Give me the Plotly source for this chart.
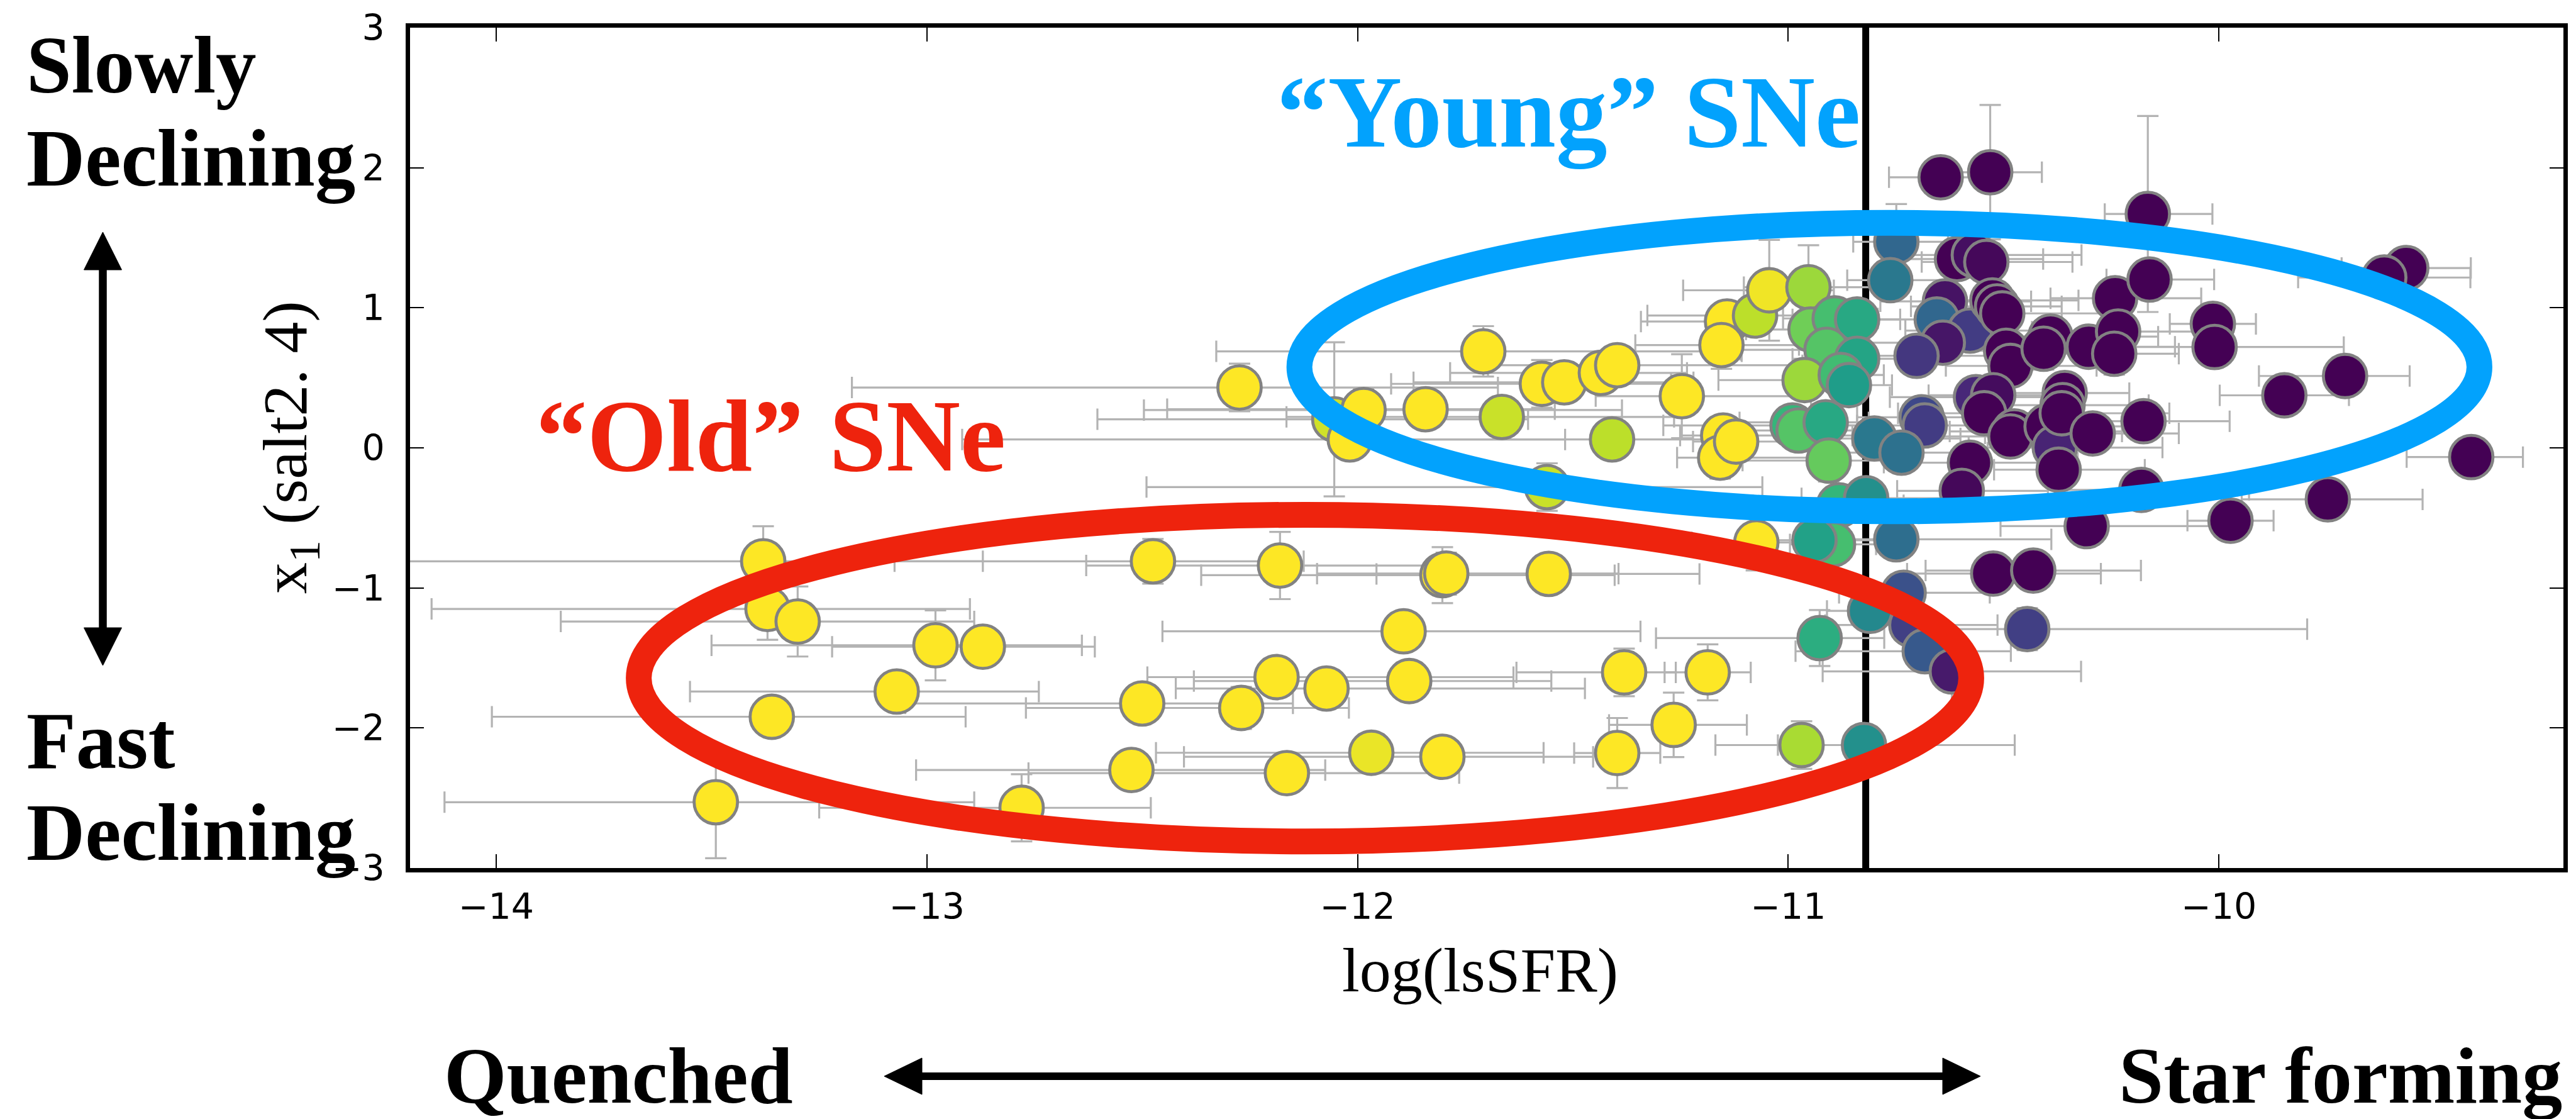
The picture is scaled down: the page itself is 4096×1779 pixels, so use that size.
import plotly.graph_objects as go

# ---------------------------------------------------------------
# Data: log local specific SFR of the host vs SALT2.4 stretch x1
# ---------------------------------------------------------------
lssfr = [
    -13.38, -13.37, -13.30, -12.98, -12.87, -13.07, -13.36, -13.49, -12.78, -12.475,
    -12.50, -12.525, -12.274, -12.054, -11.986, -12.018, -11.842, -11.708, -11.665, -11.572,
    -11.52, -11.56, -12.18, -11.803, -11.794, -11.556, -11.893, -12.188, -12.27, -12.072,
    -11.88, -11.968, -11.803, -12.164, -11.435, -11.397, -11.247, -11.409, -11.142, -11.077,
    -11.044, -11.155, -10.953, -10.948, -10.892, -10.84, -10.911, -10.84, -10.962, -10.878,
    -10.859, -10.99, -10.976, -10.913, -10.906, -10.80, -11.151, -11.158, -11.121, -10.882,
    -10.819, -11.074, -10.896, -10.939, -10.81, -10.927, -11.381, -11.187, -11.266, -11.397,
    -10.969, -10.824, -10.749, -10.763, -10.608, -10.569, -10.54, -10.636, -10.655, -10.578,
    -10.641, -10.702, -10.526, -10.515, -10.503, -10.494, -10.484, -10.391, -10.407, -10.302,
    -10.241, -10.234, -10.243, -10.161, -10.564, -10.524, -10.545, -10.475, -10.484, -10.40,
    -10.381, -10.372, -10.358, -10.363, -10.365, -10.293, -10.69, -10.683, -10.737, -10.578,
    -10.597, -10.165, -10.175, -10.18, -10.307, -10.749, -10.524, -10.431, -10.732, -10.714,
    -10.683, -10.62, -10.445, -10.646, -10.531, -9.565, -9.616, -10.014, -10.01, -9.707,
    -9.848, -9.414, -9.747, -9.973,
]
x1 = [
    -0.81, -1.15, -1.24, -1.41, -1.42, -1.74, -1.92, -2.53, -2.57, -0.81,
    -1.825, -2.30, 0.431, 0.204, 0.27, 0.06, 0.276, 0.689, 0.221, 0.457,
    0.468, -0.28, -0.84, -0.909, -0.898, -0.90, -1.31, -1.637, -1.857, -1.718,
    -1.665, -2.177, -2.206, -2.322, 0.535, 0.59, 0.369, 0.06, 0.902, 0.945,
    1.125, 0.734, 1.147, 0.845, 0.924, 0.917, 0.70, 0.636, 0.484, 0.52,
    0.448, 0.16, 0.124, 0.182, -0.091, 0.067, 0.088, -0.07, 0.045, -0.41,
    -0.36, -0.675, -0.689, -0.66, -1.164, -1.358, -1.603, -1.603, -1.978, -2.179,
    -2.122, -2.122, 1.471, 1.197, 1.348, 1.377, 1.327, 1.046, 0.917, 0.837,
    0.751, 0.657, 1.053, 1.01, 0.96, 0.693, 0.585, 0.794, 0.708, 0.722,
    1.068, 0.83, 0.672, 1.202, 0.362, 0.376, 0.247, 0.117, 0.081, 0.153,
    0.002, -0.156, 0.391, 0.305, 0.247, 0.103, 0.218, 0.16, -0.034, -0.106,
    -0.307, 1.67, 0.19, -0.30, -0.559, -0.653, -0.898, -0.876, -1.035, -1.265,
    -1.452, -1.596, -1.294, 1.932, 1.968, 1.284, 1.216, 0.885, 0.72, 0.513,
    0.375, -0.066, -0.368, -0.52,
]
lssfr_err_lo = [
    0.90, 0.78, 0.55, 0.52, 0.35, 0.48, 0.65, 0.63, 0.47, 0.60,
    0.55, 0.50, 0.90, 0.55, 0.51, 0.90, 0.60, 0.62, 0.50, 0.35,
    0.35, 0.93, 0.45, 0.56, 0.30, 0.40, 0.56, 0.30, 0.50, 0.35,
    0.50, 0.50, 0.60, 0.60, 0.35, 0.30, 0.20, 0.60, 0.20, 0.25,
    0.20, 0.20, 0.15, 0.15, 0.12, 0.15, 0.20, 0.15, 0.20, 0.12,
    0.10, 0.30, 0.15, 0.20, 0.20, 0.15, 0.10, 0.10, 0.10, 0.20,
    0.15, 0.15, 0.10, 0.10, 0.10, 0.38, 0.25, 0.10, 0.15, 0.10,
    0.20, 0.20, 0.10, 0.10, 0.15, 0.20, 0.15, 0.15, 0.20, 0.15,
    0.20, 0.15, 0.15, 0.20, 0.15, 0.20, 0.15, 0.15, 0.20, 0.15,
    0.15, 0.20, 0.25, 0.10, 0.20, 0.15, 0.20, 0.15, 0.20, 0.15,
    0.20, 0.15, 0.20, 0.15, 0.20, 0.25, 0.15, 0.20, 0.15, 0.20,
    0.15, 0.10, 0.25, 0.20, 0.20, 0.20, 0.20, 0.25, 0.15, 0.20,
    0.30, 0.30, 0.30, 0.12, 0.10, 0.15, 0.20, 0.10, 0.30, 0.20,
    0.15, 0.15, 0.20, 0.10,
]
lssfr_err_hi = [
    0.51, 0.47, 0.41, 0.34, 0.26, 0.33, 0.45, 0.60, 0.30, 0.35,
    0.35, 0.45, 0.60, 0.45, 0.60, 0.50, 0.30, 0.60, 0.40, 0.30,
    0.30, 0.50, 0.38, 0.40, 0.40, 0.35, 0.55, 0.55, 0.25, 0.60,
    0.33, 0.40, 0.35, 0.40, 0.20, 0.43, 0.30, 0.30, 0.10, 0.15,
    0.15, 0.18, 0.16, 0.12, 0.10, 0.10, 0.10, 0.12, 0.10, 0.10,
    0.10, 0.15, 0.15, 0.10, 0.15, 0.20, 0.30, 0.25, 0.20, 0.15,
    0.20, 0.10, 0.10, 0.15, 0.10, 0.15, 0.12, 0.10, 0.17, 0.10,
    0.10, 0.35, 0.12, 0.15, 0.20, 0.25, 0.20, 0.20, 0.15, 0.20,
    0.15, 0.20, 0.20, 0.15, 0.25, 0.20, 0.20, 0.25, 0.15, 0.20,
    0.20, 0.25, 0.15, 0.15, 0.20, 0.15, 0.20, 0.25, 0.15, 0.20,
    0.25, 0.20, 0.15, 0.20, 0.25, 0.20, 0.20, 0.15, 0.20, 0.25,
    0.20, 0.15, 0.20, 0.25, 0.30, 0.36, 0.25, 0.25, 0.20, 0.20,
    0.20, 0.30, 0.65, 0.10, 0.12, 0.15, 0.20, 0.10, 0.30, 0.15,
    0.15, 0.12, 0.22, 0.10,
]
x1_err = [
    0.25, 0.22, 0.25, 0.25, 0.10, 0.10, 0.10, 0.40, 0.24, 0.16,
    0.10, 0.10, 0.17, 0.55, 0.15, 0.12, 0.12, 0.18, 0.12, 0.17,
    0.12, 0.17, 0.24, 0.20, 0.15, 0.10, 0.10, 0.10, 0.15, 0.10,
    0.10, 0.12, 0.10, 0.10, 0.10, 0.10, 0.30, 0.12, 0.08, 0.10,
    0.36, 0.17, 0.30, 0.10, 0.10, 0.10, 0.10, 0.10, 0.10, 0.08,
    0.08, 0.10, 0.10, 0.10, 0.15, 0.10, 0.10, 0.15, 0.12, 0.10,
    0.10, 0.20, 0.10, 0.10, 0.10, 0.20, 0.17, 0.20, 0.23, 0.25,
    0.17, 0.10, 0.27, 0.10, 0.12, 0.12, 0.12, 0.12, 0.15, 0.12,
    0.12, 0.12, 0.12, 0.12, 0.12, 0.12, 0.12, 0.12, 0.15, 0.12,
    0.12, 0.12, 0.15, 0.12, 0.12, 0.12, 0.12, 0.12, 0.12, 0.12,
    0.15, 0.12, 0.12, 0.12, 0.12, 0.12, 0.12, 0.12, 0.12, 0.12,
    0.12, 0.70, 0.12, 0.12, 0.12, 0.12, 0.10, 0.10, 0.10, 0.10,
    0.10, 0.30, 0.15, 0.10, 0.48, 0.10, 0.10, 0.10, 0.10, 0.10,
    0.10, 0.10, 0.10, 0.10,
]
# marker shade (0 = purple ... 1 = yellow on viridis)
shade = [
    1.0, 1.0, 1.0, 1.0, 1.0, 1.0, 1.0, 1.0, 1.0, 1.0,
    1.0, 1.0, 1.0, 0.93, 1.0, 1.0, 1.0, 1.0, 0.92, 1.0,
    1.0, 0.92, 1.0, 1.0, 1.0, 1.0, 1.0, 1.0, 1.0, 1.0,
    1.0, 0.97, 1.0, 1.0, 1.0, 1.0, 1.0, 0.90, 1.0, 0.90,
    0.98, 1.0, 0.85, 0.78, 0.70, 0.60, 0.73, 0.58, 0.85, 0.69,
    0.55, 0.66, 0.73, 0.60, 0.76, 0.40, 1.0, 1.0, 1.0, 0.66,
    0.50, 1.0, 0.70, 0.57, 0.47, 0.62, 1.0, 1.0, 1.0, 1.0,
    0.87, 0.50, 0.33, 0.40, 0.0, 0.04, 0.02, 0.05, 0.33, 0.18,
    0.06, 0.16, 0.0, 0.0, 0.0, 0.0, 0.0, 0.0, 0.0, 0.0,
    0.0, 0.0, 0.0, 0.0, 0.11, 0.03, 0.0, 0.0, 0.0, 0.0,
    0.10, 0.0, 0.0, 0.0, 0.0, 0.0, 0.22, 0.18, 0.37, 0.0,
    0.02, 0.0, 0.0, 0.0, 0.0, 0.36, 0.0, 0.0, 0.25, 0.19,
    0.28, 0.07, 0.19, 0.0, 0.0, 0.0, 0.0, 0.0, 0.0, 0.0,
    0.0, 0.0, 0.0, 0.0,
]

x_ticks = [-14, -13, -12, -11, -10]
y_ticks = [-3, -2, -1, 0, 1, 2, 3]
x_range = [-14.2, -9.2]
y_range = [-3.0, 3.0]
lssfr_cut = -10.82

# ellipses: centre and semi-axes in data units
old_ellipse = dict(cx=-12.122, cy=-1.644, a=1.547, b=1.166)
young_ellipse = dict(cx=-10.765, cy=0.577, a=1.37, b=1.03)

# ---------------------------------------------------------------
# Canvas geometry
# ---------------------------------------------------------------
W, H = 4096, 1779
L, R, T, B = 652, 20, 44, 399
PW, PH = W - L - R, H - T - B


def px(xp):
    """Pixel column -> paper x."""
    return (xp - L) / PW


def py(yp):
    """Pixel row (from top) -> paper y."""
    return (H - B - yp) / PH


def minus(v):
    return str(v).replace("-", "\u2212")


RED = "#EE230D"
BLUE = "#02A2FD"
SERIF = "Liberation Serif"

fig = go.Figure()

fig.add_trace(go.Scatter(
    x=lssfr, y=x1, mode="markers",
    error_x=dict(type="data", symmetric=False, array=lssfr_err_hi,
                 arrayminus=lssfr_err_lo, color="#b3b3b3", thickness=3.2, width=17),
    error_y=dict(type="data", array=x1_err, color="#b3b3b3", thickness=3.2, width=17),
    marker=dict(size=69, color=shade, colorscale="Viridis", cmin=0, cmax=1,
                line=dict(color="#828282", width=4.8), opacity=1),
    showlegend=False, hoverinfo="x+y",
))

shapes = []
# lsSFR dividing line
shapes.append(dict(type="line", xref="x", yref="paper", x0=lssfr_cut, x1=lssfr_cut,
                   y0=0, y1=1, line=dict(color="black", width=11), layer="below"))
# population ellipses
for e, col in ((old_ellipse, RED), (young_ellipse, BLUE)):
    shapes.append(dict(type="circle", xref="x", yref="y",
                       x0=e["cx"] - e["a"], x1=e["cx"] + e["a"],
                       y0=e["cy"] - e["b"], y1=e["cy"] + e["b"],
                       line=dict(color=col, width=41), layer="above"))


def tri(points):
    path = "M " + " L ".join(f"{px(a):.5f},{py(b):.5f}" for a, b in points) + " Z"
    return dict(type="path", xref="paper", yref="paper", path=path,
                fillcolor="black", line=dict(color="black", width=1))


# vertical double arrow (stretch direction)
ax_x, top_tip, bot_tip, head, half = 163.5, 369, 1058, 60, 30
shapes.append(dict(type="line", xref="paper", yref="paper",
                   x0=px(ax_x), x1=px(ax_x), y0=py(top_tip + head - 2), y1=py(bot_tip - head + 2),
                   line=dict(color="black", width=12.5)))
shapes.append(tri([(ax_x, top_tip), (ax_x - half, top_tip + head), (ax_x + half, top_tip + head)]))
shapes.append(tri([(ax_x, bot_tip), (ax_x - half, bot_tip - head), (ax_x + half, bot_tip - head)]))

# horizontal double arrow (sSFR direction)
ay, left_tip, right_tip, hh = 1711, 1406, 3149, 29
shapes.append(dict(type="line", xref="paper", yref="paper",
                   x0=px(left_tip + head - 2), x1=px(right_tip - head + 2), y0=py(ay), y1=py(ay),
                   line=dict(color="black", width=12)))
shapes.append(tri([(left_tip, ay), (left_tip + head, ay - hh), (left_tip + head, ay + hh)]))
shapes.append(tri([(right_tip, ay), (right_tip - head, ay - hh), (right_tip - head, ay + hh)]))

annotations = []


def label(text, xp, yp, size, color="black", xanchor="left", weight="bold",
          angle=0, family=SERIF):
    annotations.append(dict(
        text=text, xref="paper", yref="paper", x=px(xp), y=py(yp),
        xanchor=xanchor, yanchor="middle", showarrow=False, textangle=angle,
        font=dict(family=family, size=size, color=color, weight=weight),
    ))


label("Slowly", 40, 104, 129)
label("Declining", 40, 252, 129)
label("Fast", 40, 1177, 129)
label("Declining", 40, 1324, 129)
label("Quenched", 704, 1710, 128)
label("Star forming", 4076, 1710, 128, xanchor="right")
label("\u201cOld\u201d SNe", 850, 693, 163, color=RED)
label("\u201cYoung\u201d SNe", 2028, 178, 163, color=BLUE)
label("log(lsSFR)", 2353, 1542, 100, xanchor="center", weight="normal")
label("x<sub>1</sub> (salt2. 4)", 460, 712, 100, xanchor="center",
      weight="normal", angle=-90)

axis_common = dict(
    showline=True, linecolor="black", linewidth=6.5, mirror="ticks",
    ticks="inside", ticklen=22, tickwidth=2.2, tickcolor="black",
    showgrid=False, zeroline=False,
    tickfont=dict(family="DejaVu Sans", size=57, color="black"),
)

fig.update_layout(
    width=W, height=H,
    margin=dict(l=L, r=R, t=T, b=B, pad=0),
    paper_bgcolor="white", plot_bgcolor="white",
    xaxis=dict(range=x_range, tickvals=x_ticks, ticktext=[minus(v) for v in x_ticks],
               ticklabelstandoff=6, **axis_common),
    yaxis=dict(range=y_range, tickvals=y_ticks, ticktext=[minus(v) for v in y_ticks],
               ticklabelstandoff=22, **axis_common),
    shapes=shapes,
    annotations=annotations,
)

fig.write_html("out.html")
